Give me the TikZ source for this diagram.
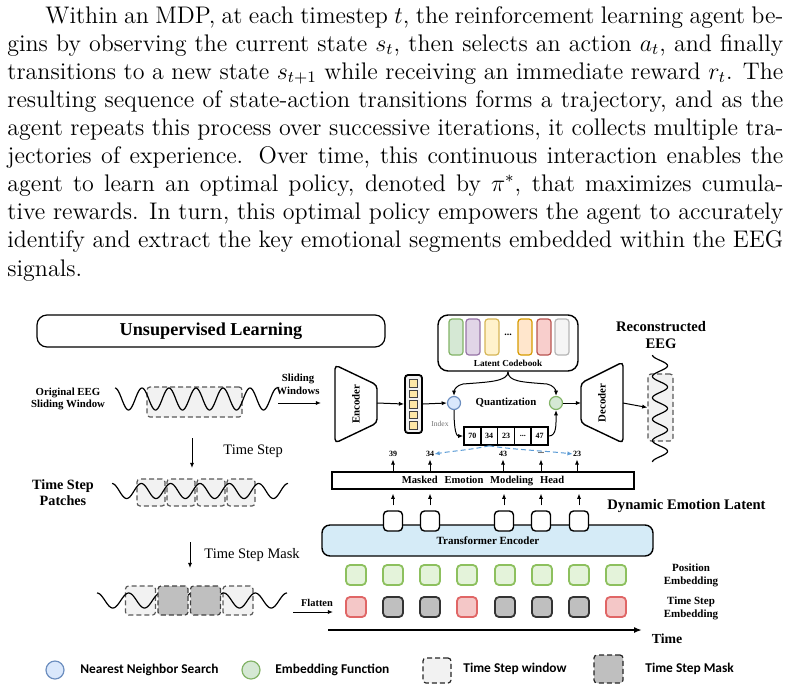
\documentclass[tikz,border=0pt]{standalone}
\usepackage{fontspec}
\usetikzlibrary{arrows.meta,calc}
\newfontfamily\tnr{Liberation Serif}
\newfontfamily\legfont{Carlito}
\definecolor{winfill}{HTML}{F2F2F2}
\definecolor{maskfill}{HTML}{BFBFBF}
\definecolor{tefill}{HTML}{D5EBF7}
\definecolor{posfill}{HTML}{E4F3DA}
\definecolor{posdraw}{HTML}{8DC05E}
\definecolor{redfill}{HTML}{F4C7C7}
\definecolor{reddraw}{HTML}{E06666}
\definecolor{bluefill}{HTML}{DAE8FC}
\definecolor{bluedraw}{HTML}{6C8EBF}
\definecolor{greenfill}{HTML}{D5E8D4}
\definecolor{greendraw}{HTML}{82B366}
\definecolor{purplefill}{HTML}{E1D5E7}
\definecolor{purpledraw}{HTML}{9673A6}
\definecolor{yellowfill}{HTML}{FFF2CC}
\definecolor{yellowdraw}{HTML}{D6B656}
\definecolor{orangefill}{HTML}{FFE6CC}
\definecolor{orangedraw}{HTML}{D79B00}
\definecolor{pinkfill}{HTML}{F8CECC}
\definecolor{pinkdraw}{HTML}{B85450}
\definecolor{greyfill}{HTML}{F5F5F5}
\definecolor{greydraw}{HTML}{B5B5B5}
\definecolor{featfill}{HTML}{FDE7A6}
\definecolor{dashblue}{HTML}{5B9BD5}
\newcommand\pline[1]{\hbox to 388pt{#1}}
\tikzset{
  lbl/.style={font=\tnr\bfseries\fontsize{5.4}{6.4}\selectfont, align=center, inner sep=0pt},
  arr/.style={-{Latex[length=2.6pt,width=2.1pt]}, line width=0.5pt},
  dasharr/.style={-{Latex[length=2.6pt,width=2.1pt]}, line width=0.5pt, draw=dashblue, dash pattern=on 2.5pt off 1.5pt},
  win/.style={draw=black!65, dash pattern=on 2.5pt off 1.5pt, fill=winfill, rounded corners=1.5pt, line width=0.6pt, inner sep=0pt},
  maskbox/.style={win, fill=maskfill, draw=black!75},
  wave/.style={line width=0.6pt, smooth},
  tok/.style={draw, fill=white, rounded corners=2pt, line width=0.7pt, minimum width=9.5pt, minimum height=10pt, inner sep=0pt},
  emb/.style={rounded corners=2pt, line width=0.9pt, minimum width=10pt, minimum height=10pt, inner sep=0pt},
  posemb/.style={emb, draw=posdraw, fill=posfill},
  redemb/.style={emb, draw=reddraw, fill=redfill},
  grayemb/.style={emb, draw=black!80, fill=maskfill},
  bar/.style={rounded corners=1.5pt, line width=0.6pt, minimum width=7pt, minimum height=18pt, inner sep=0pt},
  cell/.style={draw, line width=0.8pt, minimum width=8.4pt, minimum height=9pt, inner sep=0pt, font=\tnr\bfseries\fontsize{4}{4.5}\selectfont},
  num/.style={inner sep=0pt, font=\tnr\bfseries\fontsize{4}{4.5}\selectfont},
  sq/.style={draw=black!75, fill=featfill, line width=0.5pt, minimum width=3.8pt, minimum height=3.8pt, inner sep=0pt},
  legtext/.style={anchor=west, inner sep=0pt, font=\legfont\bfseries\fontsize{6.7}{7.5}\selectfont},
}
\begin{document}
\begin{tikzpicture}[x=0.5pt,y=-0.5pt]
\useasboundingbox (0,0) rectangle (791,691);

% ---------- paragraph ----------
\node[anchor=base west, inner sep=0pt, font=\fontsize{12}{14}\selectfont] (para) at (7,276) {\vbox{\baselineskip=14.05pt
\pline{\hspace*{19pt}Within an MDP, at each timestep $t$, the reinforcement learning agent be-}
\pline{gins by observing the current state $s_t$, then selects an action $a_t$, and finally}
\pline{transitions to a new state $s_{t+1}$ while receiving an immediate reward $r_t$. The}
\pline{resulting sequence of state-action transitions forms a trajectory, and as the}
\pline{agent repeats this process over successive iterations, it collects multiple tra-}
\pline{jectories of experience. Over time, this continuous interaction enables the}
\pline{agent to learn an optimal policy, denoted by $\pi^*$, that maximizes cumula-}
\pline{tive rewards. In turn, this optimal policy empowers the agent to accurately}
\pline{identify and extract the key emotional segments embedded within the EEG}
\hbox{signals.}}};

% ---------- top left ----------
\node[draw, rounded corners=5pt, line width=0.6pt, minimum width=174pt, minimum height=16pt, inner sep=0pt,
  font=\tnr\bfseries\fontsize{9.1}{10}\selectfont] (ul) at (211,331) {Unsupervised Learning};
\node[lbl] (oeeg) at (68,399) {Original EEG\\Sliding Window};
\node[win, minimum width=47.5pt, minimum height=15pt] (w0) at (194.5,402) {};
\draw[wave] plot[domain=115:277, samples=200] (\x, {399-11*cos(13.3333*(\x-115))});
\node[lbl] (slw) at (298,384) {Sliding\\Windows};
\coordinate (s1) at (278,403);
\coordinate (s2) at (321,403);
\draw[arr] (s1) -- (s2);

% ---------- encoder ----------
\coordinate (e1) at (335,365); \coordinate (e2) at (377,385);
\coordinate (e3) at (377,423); \coordinate (e4) at (335,443);
\draw[rounded corners=2pt, line width=0.7pt] (e1) -- (e2) -- (e3) -- (e4) -- cycle;
\node[lbl, rotate=90] (enc) at (356,404) {Encoder};
\coordinate (encout) at (377,403);

\node[draw, rounded corners=1.5pt, line width=0.9pt, fill=black!5, minimum width=8.5pt, minimum height=29pt, inner sep=0pt] (feat) at (413.5,404) {};
\foreach \i/\yy in {1/383.5, 2/394, 3/404.5, 4/415, 5/425.5}
  \node[sq] (f\i) at (413.5,\yy) {};
\draw[arr] (encout) -- (feat.west);

\node[circle, draw=bluedraw, fill=bluefill, line width=0.6pt, minimum size=6.5pt, inner sep=0pt] (bc) at (454,403) {};
\node[circle, draw=greendraw, fill=greenfill, line width=0.6pt, minimum size=6.5pt, inner sep=0pt] (gc) at (556,403) {};
\draw[arr] (feat.east) -- (bc.west);
\node[lbl] (quant) at (506,403) {Quantization};

% ---------- codebook ----------
\node[draw, rounded corners=5pt, line width=0.7pt, minimum width=70pt, minimum height=28pt, inner sep=0pt] (cb) at (508,343) {};
\node[bar, draw=greendraw, fill=greenfill] (c1) at (456,337) {};
\node[bar, draw=purpledraw, fill=purplefill] (c2) at (473,337) {};
\node[bar, draw=yellowdraw, fill=yellowfill] (c3) at (492,337) {};
\node[inner sep=0pt, font=\tnr\bfseries\fontsize{5}{5}\selectfont] (cdots) at (508,335) {...};
\node[bar, draw=orangedraw, fill=orangefill] (c4) at (525,337) {};
\node[bar, draw=pinkdraw, fill=pinkfill] (c5) at (544,337) {};
\node[bar, draw=greydraw, fill=greyfill] (c6) at (562,337) {};
\node[lbl, font=\tnr\bfseries\fontsize{4.6}{5}\selectfont] (cbl) at (508,363) {Latent Codebook};
\draw[arr] (cb.south) .. controls +(0,10) and +(25,-2) .. (463,384) .. controls +(-6,1) and +(0,-6) .. (bc.north);
\draw[arr] (cb.south) .. controls +(0,10) and +(-25,-2) .. (547,384) .. controls +(6,1) and +(0,-6) .. (gc.north);

% ---------- index table ----------
\node[cell] (t1) at (472.4,436) {70};
\node[cell] (t2) at (489.2,436) {34};
\node[cell] (t3) at (506,436) {23};
\node[cell] (t4) at (522.8,436) {...};
\node[cell] (t5) at (539.6,436) {47};
\node[inner sep=0pt, text=black!55, font=\tnr\fontsize{3.8}{4}\selectfont] (idx) at (440,424) {Index};
\draw[arr] (bc.south) .. controls +(0,14) and +(-8,0) .. (t1.west);
\draw[arr] (t5.east) .. controls +(8,0) and +(0,14) .. (gc.south);

% ---------- decoder ----------
\coordinate (d1) at (581,383); \coordinate (d2) at (623,362);
\coordinate (d3) at (623,443); \coordinate (d4) at (581,423);
\draw[rounded corners=2pt, line width=0.7pt] (d1) -- (d2) -- (d3) -- (d4) -- cycle;
\node[lbl, rotate=90] (dec) at (602,403) {Decoder};
\coordinate (decin) at (581,403);
\coordinate (decout) at (623,403);
\draw[arr] (gc.east) -- (decin);

\node[win, minimum width=12.5pt, minimum height=33.5pt] (rb) at (660.5,407.5) {};
\draw[wave] plot[domain=355:462, samples=200] ({660-7.5*cos(16.8224*(\x-355))}, \x);
\draw[arr] (decout) -- (rb.west);
\node[lbl, font=\tnr\bfseries\fontsize{7.3}{8.5}\selectfont] (rec) at (661,335) {Reconstructed\\EEG};

% ---------- labels above head ----------
\node[num] (l1) at (393,454) {39};
\node[num] (l2) at (430,454) {34};
\node[num] (l3) at (503,454) {43};
\node[num] (l4) at (541,453) {...};
\node[num] (l5) at (577,454) {23};
\draw[dasharr] (t2.south) .. controls +(-18,4) and +(18,-3) .. (l2.east);
\draw[dasharr] (t2.south) .. controls +(25,4) and +(-25,-3) .. (l5.west);

\node[draw, line width=0.6pt, minimum width=151pt, minimum height=8.5pt, inner sep=0pt,
  font=\tnr\bfseries\fontsize{5.3}{6}\selectfont] (head) at (483,480.5)
  {Masked\hspace{3.4pt}Emotion\hspace{3.4pt}Modeling\hspace{3.4pt}Head};
\foreach \i in {1,...,5}
  \draw[arr] (l\i |- head.north) -- ($(l\i |- head.north)+(0,-12)$);

% ---------- transformer ----------
\node[draw, fill=tefill, rounded corners=4pt, line width=0.7pt, minimum width=165.5pt, minimum height=15.5pt, inner sep=0pt] (te) at (487.5,540.5) {};
\node[lbl, font=\tnr\bfseries\fontsize{5.5}{6}\selectfont] (tel) at (488,541) {Transformer Encoder};
\foreach \i/\xx in {1/393, 2/430, 3/504, 4/541, 5/579}{
  \node[tok] (tk\i) at (\xx,521) {};
  \draw[arr] ($(tk\i.north)+(0,-5)$) -- ($(tk\i.north |- head.south)+(0,4)$);
}
\node[lbl, font=\tnr\bfseries\fontsize{7.3}{8}\selectfont] (del) at (686.5,506) {Dynamic Emotion Latent};

% ---------- embeddings ----------
\foreach \i/\xx in {1/356, 2/393, 3/430, 4/467, 5/505, 6/542, 7/579, 8/616}
  \node[posemb] (p\i) at (\xx,575) {};
\foreach \i/\xx/\st in {1/356/redemb, 2/393/grayemb, 3/430/grayemb, 4/467/redemb, 5/505/grayemb, 6/542/grayemb, 7/579/grayemb, 8/616/redemb}
  \node[\st] (q\i) at (\xx,607) {};
\node[lbl, font=\tnr\bfseries\fontsize{5.5}{6.5}\selectfont] (posl) at (691,575.5) {Position\\Embedding};
\node[lbl, font=\tnr\bfseries\fontsize{5.5}{6.5}\selectfont] (tsl) at (691,608) {Time Step\\Embedding};

\node[lbl, font=\tnr\bfseries\fontsize{5.2}{6}\selectfont] (flat) at (317,603) {Flatten};
\coordinate (fl1) at (293,612);
\coordinate (fl2) at (333,612);
\draw[arr] (fl1) -- (fl2);

\coordinate (ta1) at (328,630);
\coordinate (ta2) at (642,630);
\draw[-{Latex[length=4pt,width=3pt]}, line width=0.9pt] (ta1) -- (ta2);
\node[lbl, font=\tnr\bfseries\fontsize{6.9}{7}\selectfont] (timel) at (667,639) {Time};

% ---------- time step patches ----------
\coordinate (a1) at (192,438); \coordinate (a2) at (192,468);
\draw[arr] (a1) -- (a2);
\node[anchor=west, inner sep=0pt, font=\tnr\fontsize{7.25}{8}\selectfont] (tsa) at (223,451) {Time Step};
\node[lbl, font=\tnr\bfseries\fontsize{7.1}{8}\selectfont] (tsp) at (63,493) {Time Step\\Patches};
\foreach \i/\xx in {1/151, 2/181, 3/211, 4/241}
  \node[win, minimum width=14pt, minimum height=13.5pt] (b\i) at (\xx,492.5) {};
\draw[wave] plot[domain=112:288, samples=200] (\x, {491-7.5*cos(12.2728*(\x-112))});

% ---------- time step mask ----------
\coordinate (a3) at (190,542); \coordinate (a4) at (190,568);
\draw[arr] (a3) -- (a4);
\node[anchor=west, inner sep=0pt, font=\tnr\fontsize{7.25}{8}\selectfont] (tsm) at (204,555) {Time Step Mask};
\node[win, minimum width=15pt, minimum height=14.5pt] (m1) at (140.5,600.5) {};
\node[win, minimum width=15pt, minimum height=14.5pt] (m4) at (238,600.5) {};
\draw[wave] plot[domain=97:287, samples=200] (\x, {600.5-7.5*cos(11.3684*(\x-97))});
\node[maskbox, minimum width=15pt, minimum height=14.5pt] (m2) at (173,600.5) {};
\node[maskbox, minimum width=15pt, minimum height=14.5pt] (m3) at (205.5,600.5) {};

% ---------- legend ----------
\node[circle, draw=bluedraw, fill=bluefill, line width=0.6pt, minimum size=9pt, inner sep=0pt] (lg1) at (55,670) {};
\node[legtext] (lg1t) at (80,670) {Nearest Neighbor Search};
\node[circle, draw=greendraw, fill=greenfill, line width=0.6pt, minimum size=9pt, inner sep=0pt] (lg2) at (251,670) {};
\node[legtext] (lg2t) at (275,670) {Embedding Function};
\node[win, draw=black!85, minimum width=14pt, minimum height=12.5pt] (lg3) at (437,670.5) {};
\node[legtext] (lg3t) at (463,669) {Time Step window};
\node[maskbox, draw=black!85, minimum width=14.5pt, minimum height=14pt] (lg4) at (608.5,669) {};
\node[legtext] (lg4t) at (645,669) {Time Step Mask};
\end{tikzpicture}
\end{document}
